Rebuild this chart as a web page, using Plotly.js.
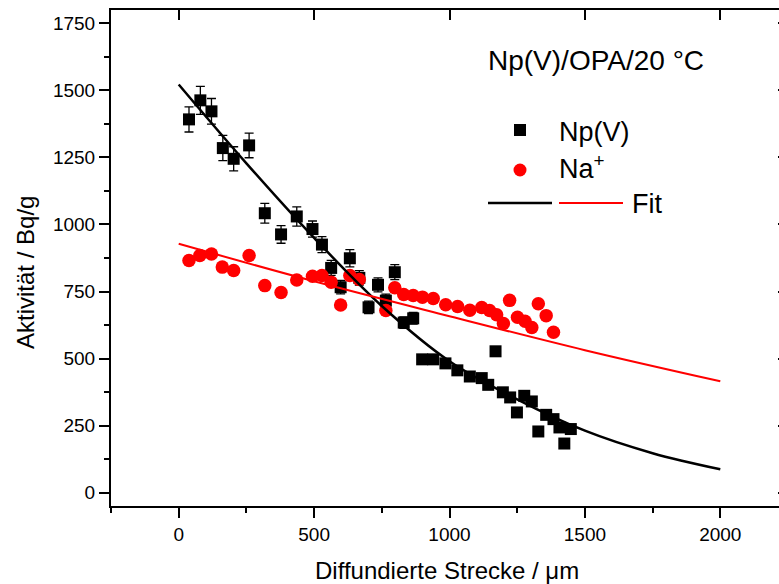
<!DOCTYPE html>
<html><head><meta charset="utf-8">
<script src="https://cdn.plot.ly/plotly-3.0.1.min.js"></script>
<style>
html,body{margin:0;padding:0;overflow:hidden;background:#fff;width:779px;height:584px}
#wrap{position:relative;width:779px;height:584px;overflow:hidden}
#chart{position:absolute;left:0;top:0;width:790px;height:584px}
</style>
</head><body><div id="wrap"><div id="chart"></div></div>
<script>
// Np(V) measurements
const npX = [38,80,121,163,203,260,318,378,436,494,529,563,598,632,667,701,736,765,798,831,866,899,940,985,1029,1075,1119,1143,1170,1197,1224,1249,1276,1304,1328,1357,1384,1406,1424,1448];
const npY = [1392,1463,1422,1285,1245,1295,1042,963,1030,983,925,838,766,874,801,691,775,716,822,634,650,497,497,482,456,433,427,402,527,374,355,299,361,340,228,290,274,243,183,237];
const npErr = [47,52,48,47,45,46,37,33,36,30,30,28,25,32,27,23,26,24,28,21,22,17,17,16,15,15,14,13,17,12,12,10,12,11,8,10,9,8,6,8];
// Na+ measurements
const naX = [38,78,121,161,203,260,318,378,436,494,529,563,598,632,667,765,798,831,866,900,940,986,1030,1075,1119,1148,1174,1199,1222,1251,1279,1304,1328,1357,1384];
const naY = [866,884,890,841,828,884,772,746,793,807,810,785,700,810,795,679,764,739,735,729,724,701,694,680,690,679,663,631,717,654,639,616,704,660,598];
// Fit curves
const fitNpX = [0,250,500,750,1000,1250,1500,1750,2000];
const fitNpY = [1522,1228,950,696,490,348,231,147,87];
const fitNaX = [0,500,1000,1500,2000];
const fitNaY = [928,788,658,531,415];
// Axis ticks / texts
const xTitle = 'Diffundierte Strecke / \u03BCm';
const yTitle = 'Aktivit\u00E4t / Bq/g';
const chartLabel = 'Np(V)/OPA/20 \u00B0C';
const legendNames = ['Np(V)', 'Na<sup>+</sup>', 'Fit'];

const FONT = 'Arial, "Liberation Sans", sans-serif';
const xRange = [-250, 2250], yRange = [-50, 1800];

const traces = [
  {x: npX, y: npY, type:'scatter', mode:'markers', name:'Np(V)',
   marker:{symbol:'square', size:12, color:'#000'},
   error_y:{type:'data', array:npErr, visible:true, color:'#000', thickness:1.3, width:4.5}},
  {x: naX, y: naY, type:'scatter', mode:'markers', name:'Na+',
   marker:{symbol:'circle', size:13.5, color:'#ff0000'}},
  {x: fitNpX, y: fitNpY, type:'scatter', mode:'lines', name:'Fit',
   line:{color:'#000', width:2.5, shape:'spline', smoothing:1}},
  {x: fitNaX, y: fitNaY, type:'scatter', mode:'lines', name:'Fit Na',
   line:{color:'#ff0000', width:2, shape:'spline', smoothing:1}},
  {x: [], y: [], xaxis:'x2', yaxis:'y2', type:'scatter', showlegend:false}
];

const axBase = {showgrid:false, zeroline:false, showline:true, linewidth:2, linecolor:'#000',
  tickcolor:'#000', tickwidth:2, tickfont:{family:FONT, size:19, color:'#000'}};

const W = 677, H = 496, L = 111, T = 10;
const px = v => (v - L) / W;
const py = v => (T + H - v) / H;

const layout = {
  width: 790, height: 584,
  margin: {l:L, r:790 - L - W, t:T, b:584 - T - H},
  paper_bgcolor:'#fff', plot_bgcolor:'#fff', showlegend:false,
  font:{family:FONT, color:'#000', size:19},
  xaxis: Object.assign({}, axBase, {range:xRange, tickmode:'linear', tick0:0, dtick:500,
    ticks:'outside', ticklen:10,
    minor:{tick0:0, dtick:250, ticks:'outside', ticklen:5, tickwidth:2, tickcolor:'#000'}}),
  yaxis: Object.assign({}, axBase, {range:yRange, tickmode:'linear', tick0:0, dtick:250,
    ticks:'outside', ticklen:10,
    minor:{tick0:0, dtick:125, ticks:'outside', ticklen:5, tickwidth:2, tickcolor:'#000'}}),
  xaxis2: Object.assign({}, axBase, {overlaying:'x', side:'top', anchor:'y2', range:xRange,
    tickmode:'linear', tick0:0, dtick:500, ticks:'inside', ticklen:10, showticklabels:false}),
  yaxis2: Object.assign({}, axBase, {overlaying:'y', side:'right', anchor:'x2', range:yRange,
    tickmode:'linear', tick0:0, dtick:250, ticks:'inside', ticklen:10, showticklabels:false}),
  annotations: [
    {text: chartLabel, xref:'paper', yref:'paper', x:px(486), y:py(61), xanchor:'left', yanchor:'middle',
     showarrow:false, font:{family:FONT, size:28, color:'#000'}},
    {text: legendNames[0], xref:'paper', yref:'paper', x:px(557), y:py(132), xanchor:'left', yanchor:'middle',
     showarrow:false, font:{family:FONT, size:27, color:'#000'}},
    {text: legendNames[1], xref:'paper', yref:'paper', x:px(557), y:py(167), xanchor:'left', yanchor:'middle',
     showarrow:false, font:{family:FONT, size:27, color:'#000'}},
    {text: legendNames[2], xref:'paper', yref:'paper', x:px(630), y:py(204), xanchor:'left', yanchor:'middle',
     showarrow:false, font:{family:FONT, size:27, color:'#000'}},
    {text: xTitle, xref:'paper', yref:'paper', x:px(447), y:py(570), xanchor:'center', yanchor:'middle',
     showarrow:false, font:{family:FONT, size:24, color:'#000'}},
    {text: yTitle, xref:'paper', yref:'paper', x:px(25), y:py(273), xanchor:'center', yanchor:'middle',
     textangle:-90, showarrow:false, font:{family:FONT, size:24, color:'#000'}}
  ],
  shapes: [
    {type:'rect', xref:'paper', yref:'paper', xsizemode:'pixel', ysizemode:'pixel',
     xanchor:px(520), yanchor:py(130), x0:-6, x1:6, y0:-6, y1:6, fillcolor:'#000', line:{width:0}},
    {type:'circle', xref:'paper', yref:'paper', xsizemode:'pixel', ysizemode:'pixel',
     xanchor:px(520), yanchor:py(170), x0:-6.5, x1:6.5, y0:-6.5, y1:6.5, fillcolor:'#ff0000', line:{width:0}},
    {type:'line', xref:'paper', yref:'paper', x0:px(488), x1:px(552), y0:py(203), y1:py(203),
     line:{color:'#000', width:2.5}},
    {type:'line', xref:'paper', yref:'paper', x0:px(559), x1:px(623), y0:py(203), y1:py(203),
     line:{color:'#ff0000', width:2}}
  ]
};

Plotly.newPlot('chart', traces, layout, {displayModeBar:false, staticPlot:true});
</script>
</body></html>
